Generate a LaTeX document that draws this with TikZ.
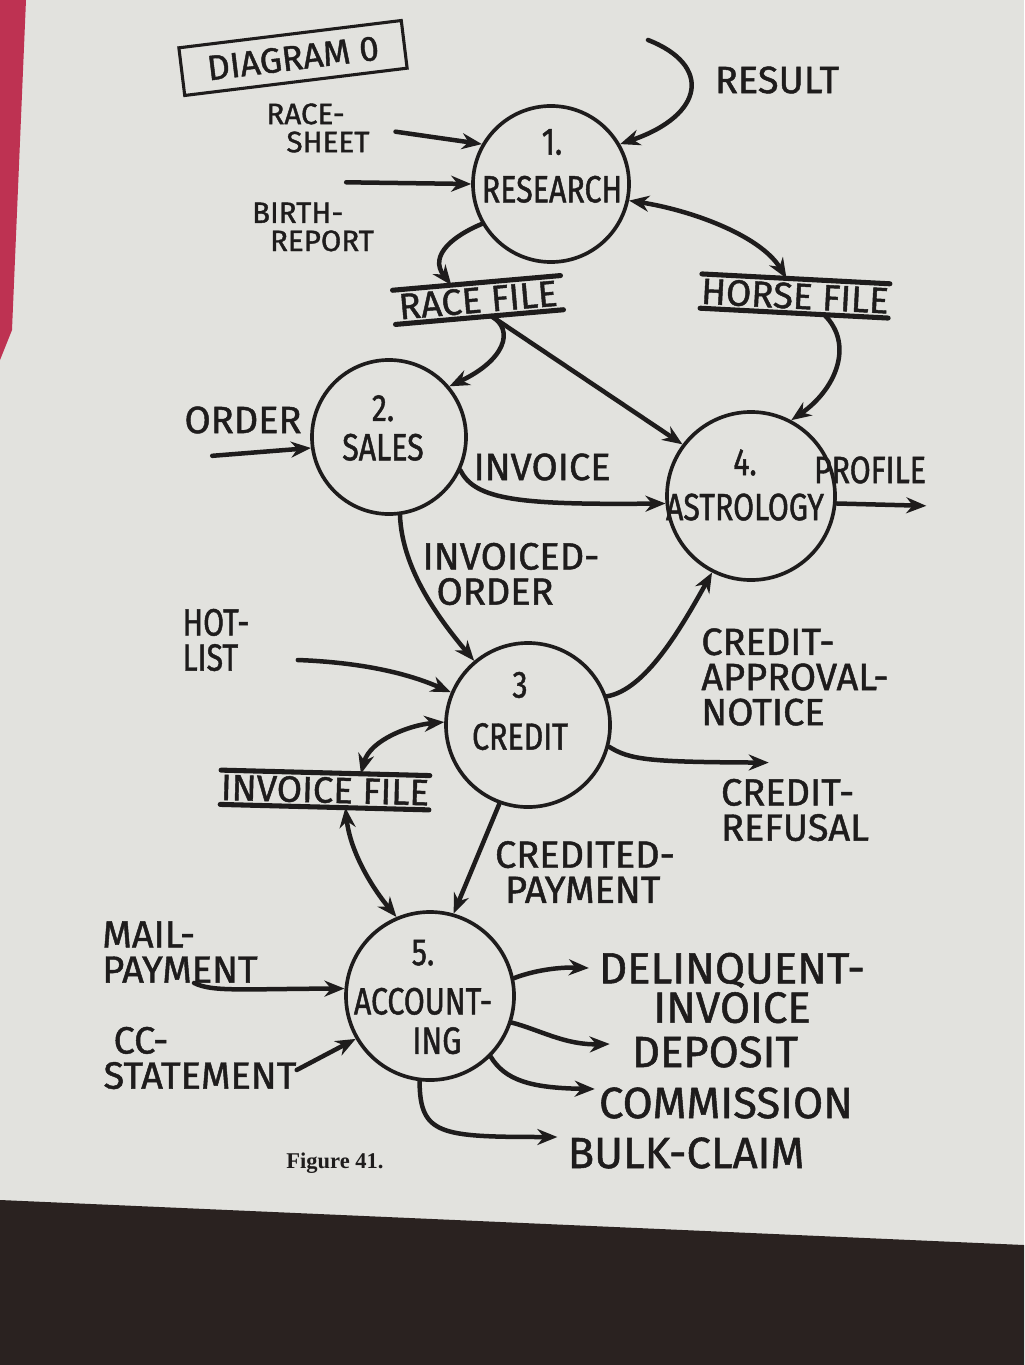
\documentclass[tikz,border=0pt]{standalone}
\usepackage{fontspec}
\setmainfont{Liberation Serif}
\newfontfamily\handfont[FakeBold=1.2]{Fira Sans}
\newfontfamily\handnarrow[FakeStretch=0.8,FakeBold=1.2]{Fira Sans}
\usetikzlibrary{arrows.meta,calc}
\definecolor{paper}{RGB}{226,226,222}
\definecolor{ink}{RGB}{30,28,28}
\definecolor{cover}{RGB}{190,50,82}
\definecolor{desk}{RGB}{42,34,32}

\tikzset{
  proc/.style={circle, draw=ink, line width=2.6pt, inner sep=0pt},
  ptext/.style={align=center, text=ink, inner sep=0pt, font=\handnarrow\fontsize{27}{30}\selectfont},
  lbl/.style={align=left, text=ink, inner sep=0pt, font=\handfont\fontsize{27}{25}\selectfont},
  lblsm/.style={lbl, font=\handfont\fontsize{21}{20}\selectfont},
  lblbig/.style={lbl, align=center, font=\handfont\fontsize{31}{28}\selectfont},
  store/.style={text=ink, inner xsep=0pt, inner ysep=3pt, text height=18pt, text depth=0pt, font=\handfont\fontsize{26}{26}\selectfont},
  rule/.style={draw=ink, line width=3.6pt, line cap=round},
  flow/.style={draw=ink, line width=3.2pt, line cap=round, -{Stealth[length=5mm,width=4mm]}},
  twoway/.style={flow, {Stealth[length=5mm,width=4mm]}-{Stealth[length=5mm,width=4mm]}}
}

\begin{document}
\begin{tikzpicture}[x=0.025cm, y=-0.025cm]
  % page, cover and desk
  \fill[paper] (0,0) rectangle (1024,1365);
  \fill[cover] (0,0) -- (26,0) -- (12,330) -- (0,360) -- cycle;
  \fill[desk] (0,1200) -- (1024,1245) -- (1024,1365) -- (0,1365) -- cycle;
  \useasboundingbox (0,0) rectangle (1024,1365);

  \node[draw=ink, line width=2.2pt, rotate=7, minimum width=5.6cm, minimum height=1.2cm, text=ink, font=\handfont\fontsize{25}{25}\selectfont] (title) at (293,58) {DIAGRAM 0};

  % processes
  \node[proc, minimum size=3.9cm] (res) at (551,184) {};
  \node[ptext] (res-t) at (552,166) {1.\\[4pt]RESEARCH};
  \node[proc, minimum size=3.85cm] (sales) at (389,437) {};
  \node[ptext] (sales-t) at (383,428) {2.\\[-2pt]SALES};
  \node[proc, minimum size=4.2cm] (astro) at (751,496) {};
  \node[ptext] (astro-t) at (745,485) {4.\\[2pt]ASTROLOGY};
  \node[proc, minimum size=4.1cm] (credit) at (528,725) {};
  \node[ptext] (credit-t) at (520,711) {3\\[7pt]CREDIT};
  \node[proc, minimum size=4.2cm] (acc) at (430,996) {};
  \node[ptext] (acc-t) at (423,997) {5.\\[5pt]ACCOUNT-\\[-2pt]\hspace*{0.7cm}ING};

  % data stores
  \node[store, rotate=5, minimum width=4.2cm] (rf) at (478,300) {RACE FILE};
  \node[store, rotate=-3, minimum width=4.5cm] (hf) at (795,296) {HORSE FILE};
  \node[store, rotate=-1.5, minimum width=4.5cm] (if) at (325,790) {INVOICE FILE};
  \foreach \s in {rf,hf,if}{
    \draw[rule] (\s.north west) -- (\s.north east);
    \draw[rule] (\s.south west) -- (\s.south east);
  }

  % flow labels
  \node[lbl] (result) at (777,80) {RESULT};
  \node[lblsm] (sheet) at (318,128) {RACE-\\\hspace*{0.5cm}SHEET};
  \node[lblsm] (birth) at (313,227) {BIRTH-\\\hspace*{0.45cm}REPORT};
  \node[lbl] (order) at (243,420) {ORDER};
  \node[lbl] (invoice) at (542,467) {INVOICE};
  \node[lbl, font=\handnarrow\fontsize{27}{25}\selectfont] (profile) at (870,470) {PROFILE};
  \node[lbl] (invord) at (511,574) {INVOICED-\\\hspace*{0.35cm}ORDER};
  \node[lbl, font=\handnarrow\fontsize{27}{25}\selectfont] (hot) at (216,640) {HOT-\\LIST};
  \node[lbl] (approval) at (795,677) {CREDIT-\\APPROVAL-\\NOTICE};
  \node[lbl] (refusal) at (795,810) {CREDIT-\\REFUSAL};
  \node[lbl] (credpay) at (585,872) {CREDITED-\\\hspace*{0.25cm}PAYMENT};
  \node[lbl] (mail) at (180,952) {MAIL-\\PAYMENT};
  \node[lbl] (cc) at (200,1058) {\hspace*{0.25cm}CC-\\STATEMENT};
  \node[lblbig] (delinq) at (732,988) {DELINQUENT-\\INVOICE};
  \node[lblbig] (deposit) at (715,1052) {DEPOSIT};
  \node[lblbig] (commission) at (726,1103) {COMMISSION};
  \node[lblbig] (bulk) at (686,1153) {BULK-CLAIM};
  \node[text=ink, font=\bfseries\fontsize{16}{16}\selectfont] (figure) at (335,1163) {Figure 41.};

  % flows
  \coordinate (resultsrc) at (648,40);
  \draw[flow] (resultsrc) .. controls (712,65) and (705,115) .. (res.30);
  \draw[flow, shorten <=0.65cm] (sheet.east) -- (res.150);
  \draw[flow] ([xshift=-0.7cm,yshift=0.5cm]birth.north east) -- (res.180);
  \draw[flow] (res.210) .. controls (455,235) and (428,255) .. ($(rf.north west)!0.35!(rf.north east)$);
  \draw[twoway] (res.-12) .. controls (690,210) and (760,235) .. ($(hf.north west)!0.45!(hf.north east)$);
  \draw[flow] ($(rf.south west)!0.57!(rf.south east)$) .. controls (515,330) and (505,360) .. (sales.40);
  \draw[flow] ($(rf.south west)!0.57!(rf.south east)$) -- (astro.143);
  \draw[flow] ($(hf.south west)!0.66!(hf.south east)$) .. controls (855,345) and (835,390) .. (astro.62);
  \draw[flow] ([xshift=0.7cm,yshift=-0.55cm]order.south west) -- (sales.188);
  \draw[flow] (sales.-25) .. controls (475,500) and (520,505) .. (astro.185);
  \draw[flow] (astro.-5) -- ([yshift=-0.55cm]profile.south east);
  \draw[flow] (sales.-82) .. controls (402,570) and (440,620) .. (credit.130);
  \draw[flow] ([xshift=1.2cm,yshift=-0.5cm]hot.east) .. controls (350,662) and (400,670) .. (credit.157);
  \draw[twoway] (credit.178) .. controls (410,725) and (370,740) .. ($(if.north west)!0.67!(if.north east)$);
  \draw[twoway] ($(if.south west)!0.6!(if.south east)$) .. controls (350,850) and (370,885) .. (acc.113);
  \draw[flow] (credit.-110) -- (acc.74);
  \draw[flow] (credit.20) .. controls (645,690) and (680,630) .. (astro.-117);
  \draw[flow] (credit.-15) .. controls (630,760) and (650,762) .. ([xshift=1.2cm,yshift=0.4cm]refusal.north west);
  \draw[flow] ([xshift=2.3cm]mail.south west) .. controls (212,992) and (240,989) .. (acc.175);
  \draw[flow] ([yshift=-0.3cm]cc.east) -- (acc.210);
  \draw[flow] (acc.12) .. controls (535,970) and (560,967) .. ([xshift=-0.25cm,yshift=0.5cm]delinq.west);
  \draw[flow] (acc.-18) .. controls (540,1030) and (565,1045) .. ([xshift=-0.55cm,yshift=0.2cm]deposit.west);
  \draw[flow] (acc.-45) .. controls (505,1080) and (530,1088) .. ([xshift=-0.1cm,yshift=0.35cm]commission.west);
  \draw[flow] (acc.-97) .. controls (420,1135) and (440,1137) .. ([xshift=-0.25cm,yshift=0.4cm]bulk.west);
\end{tikzpicture}
\end{document}
